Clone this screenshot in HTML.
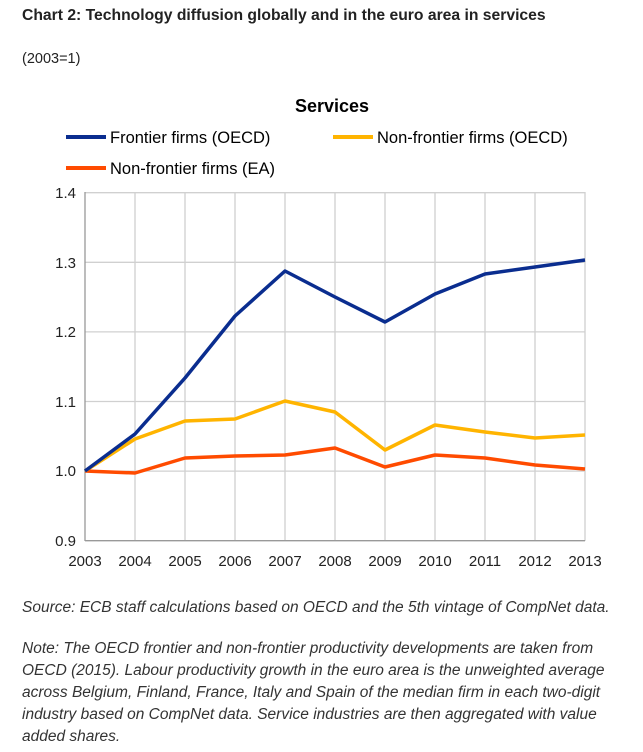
<!DOCTYPE html>
<html><head><meta charset="utf-8"><style>
body{margin:0;background:#fff;width:643px;height:752px;overflow:hidden;font-family:"Liberation Sans",sans-serif;}
.t{position:absolute;left:22px;top:7px;font-size:15.7px;font-weight:bold;color:#222;}
.s{position:absolute;left:22px;top:51px;font-size:14.5px;color:#222;}
.n{position:absolute;left:22px;font-size:15.5px;font-style:italic;color:#333;line-height:22px;width:640px;white-space:nowrap;}
</style></head><body>
<div class="t">Chart 2: Technology diffusion globally and in the euro area in services</div>
<div class="s">(2003=1)</div>
<svg width="643" height="752" style="position:absolute;left:0;top:0" font-family="Liberation Sans, sans-serif">
<text x="332" y="112" font-size="18" font-weight="bold" text-anchor="middle" fill="#000">Services</text>
<line x1="66" y1="137" x2="106" y2="137" stroke="#0a2d8f" stroke-width="4"/>
<text x="110" y="143" font-size="16.5">Frontier firms (OECD)</text>
<line x1="333" y1="137" x2="373" y2="137" stroke="#ffb400" stroke-width="4"/>
<text x="377" y="143" font-size="16.5">Non-frontier firms (OECD)</text>
<line x1="66" y1="168" x2="106" y2="168" stroke="#ff4b00" stroke-width="4"/>
<text x="110" y="174" font-size="16.5">Non-frontier firms (EA)</text>
<g stroke="#d0d0d0" stroke-width="1.3">
<line x1="85" y1="192.7" x2="585" y2="192.7"/><line x1="85" y1="262.3" x2="585" y2="262.3"/><line x1="85" y1="331.9" x2="585" y2="331.9"/><line x1="85" y1="401.5" x2="585" y2="401.5"/><line x1="85" y1="471.1" x2="585" y2="471.1"/>
<line x1="135" y1="192" x2="135" y2="541"/><line x1="185" y1="192" x2="185" y2="541"/><line x1="235" y1="192" x2="235" y2="541"/><line x1="285" y1="192" x2="285" y2="541"/><line x1="335" y1="192" x2="335" y2="541"/><line x1="385" y1="192" x2="385" y2="541"/><line x1="435" y1="192" x2="435" y2="541"/><line x1="485" y1="192" x2="485" y2="541"/><line x1="535" y1="192" x2="535" y2="541"/><line x1="585" y1="192" x2="585" y2="541"/>
</g>
<line x1="85" y1="192" x2="85" y2="541" stroke="#999" stroke-width="1.3"/>
<line x1="85" y1="540.7" x2="585" y2="540.7" stroke="#999" stroke-width="1.3"/>
<g font-size="15" text-anchor="end" fill="#222">
<text x="76" y="198">1.4</text><text x="76" y="268">1.3</text><text x="76" y="337">1.2</text><text x="76" y="407">1.1</text><text x="76" y="476">1.0</text><text x="76" y="546">0.9</text></g>
<g font-size="15" text-anchor="middle" fill="#222">
<text x="85" y="566">2003</text><text x="135" y="566">2004</text><text x="185" y="566">2005</text><text x="235" y="566">2006</text><text x="285" y="566">2007</text><text x="335" y="566">2008</text><text x="385" y="566">2009</text><text x="435" y="566">2010</text><text x="485" y="566">2011</text><text x="535" y="566">2012</text><text x="585" y="566">2013</text></g>
<g fill="none" stroke-width="3.5" stroke-linejoin="round">
<polyline stroke="#ff4b00" points="85,471 135,473 185,458 235,456 285,455 335,448 385,467 435,455 485,458 535,465 585,469"/>
<polyline stroke="#ffb400" points="85,471 135,439 185,421 235,419 285,401 335,412 385,450 435,425 485,432 535,438 585,435"/>
<polyline stroke="#0a2d8f" points="85,471 135,434 185,378 235,316 285,271 335,297 385,322 435,294 485,274 535,267 585,260"/>
</g>
</svg>
<div class="n" style="top:597px">Source: ECB staff calculations based on OECD and the 5th vintage of CompNet data.</div>
<div class="n" style="top:638px">Note: The OECD frontier and non-frontier productivity developments are taken from<br>OECD (2015). Labour productivity growth in the euro area is the unweighted average<br>across Belgium, Finland, France, Italy and Spain of the median firm in each two-digit<br>industry based on CompNet data. Service industries are then aggregated with value<br>added shares.</div>
</body></html>
